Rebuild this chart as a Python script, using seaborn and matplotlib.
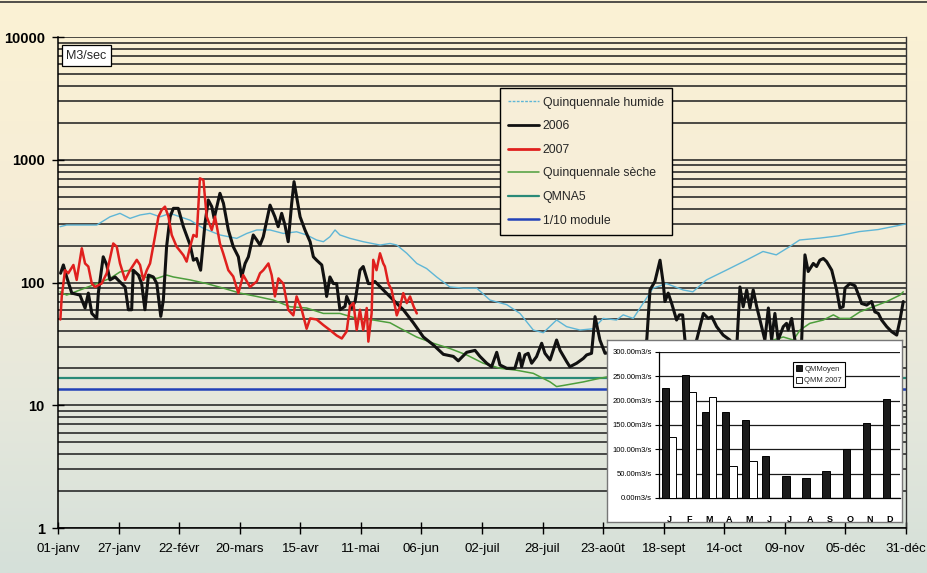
import numpy as np
import pandas as pd
import matplotlib
matplotlib.use("Agg")
import matplotlib.pyplot as plt
import seaborn as sns
from matplotlib.lines import Line2D
from matplotlib.patches import Patch
from matplotlib.ticker import FixedLocator, NullFormatter, LogLocator, FixedFormatter
from matplotlib.colors import LinearSegmentedColormap

sns.set_theme(style="white")
plt.rcParams["font.family"] = ["Liberation Sans Narrow", "Liberation Sans", "DejaVu Sans"]

# ---------------- data ----------------
tick_days = [0, 26, 52, 78, 104, 130, 156, 182, 208, 234, 260, 286, 312, 338, 364]
tick_labels = ["01-janv", "27-janv", "22-févr", "20-mars", "15-avr", "11-mai", "06-jun",
               "02-juil", "28-juil", "23-août", "18-sept", "14-oct", "09-nov", "05-déc", "31-déc"]

days_2006 = [1.1, 2.3, 3.7, 5.9, 9.4, 11.6, 13, 14.5, 16.6, 17.3, 19.4, 20.9, 22.3, 24.5, 27.3, 28.8,
             30.2, 31.6, 32.3, 34.5, 35.9, 37.3, 38.8, 40.9, 42.4, 44.1, 45.2, 46.6, 48.1, 49.5, 51.6,
             53.8, 56.7, 58.1, 59.5, 61.2, 63.1, 64.5, 66, 67, 69.5, 71, 73.1, 75.2, 77.4, 78.8, 80.3,
             81.7, 83.8, 85.3, 86.7, 88.1, 91, 93.1, 94.5, 96, 97.4, 98.8, 100.3, 101.3, 102.4, 103.9,
             106, 108.2, 109.6, 111, 113.2, 114.6, 115.3, 116.7, 118.2, 119.6, 121, 123.2, 123.9, 126,
             127.5, 129.6, 131, 133.2, 134.6, 136, 139.6, 143.9, 148.2, 152.5, 156.8,
             161.1, 165.4, 169.7, 171.8, 175.4, 179, 181.1, 184, 186.1, 188.3, 189.7, 192.6, 196.1,
             198, 199, 200.4, 201.8, 203.3, 205.4, 207.6, 209, 211.2, 214, 215.5, 218.3, 219.7, 221.2,
             222.6, 225.5, 226.9, 229, 230.5, 232.6, 234.8, 241, 247, 252.7, 254.1, 256.2, 258.4,
             259.8, 260.5, 261.9, 263.4, 265.5, 266.7, 268.1, 269.1, 271.5, 274.1, 277, 279.1, 280.6,
             282.7, 285.5, 288.4, 290, 291.5, 292.7, 294.1, 295.6, 297, 298.4, 299.9, 302, 303.4,
             304.9, 306.3, 307.7, 309.1, 311.3, 312.7, 313.4, 314.9, 316.3, 318, 319.2, 320.6, 322,
             324.2, 325.6, 327, 328.5, 329.9, 332.1, 334.2, 335.6, 337, 337.8, 339.9, 342.1, 344.2,
             344.9, 347.1, 349.2, 350.6, 352.1, 353.5, 355.7, 357.8, 360, 361.4, 362.8]
q_2006 = [119, 139, 111, 82, 79, 62, 82, 56, 51, 82, 162, 139, 105, 111, 98, 92,
          60, 60, 126, 115, 98, 60, 115, 111, 98, 53, 72, 196, 343, 402, 402,
          285, 202, 152, 157, 126, 304, 470, 415, 333, 533, 442, 268, 196, 162, 111, 143,
          162, 244, 222, 202, 236, 427, 343, 285, 366, 294, 215, 442, 663, 500, 343,
          268, 215, 162, 152, 139, 98, 77, 111, 98, 98, 60, 64, 77, 62,
          70, 126, 135, 98, 98, 102, 87, 72, 60, 47, 36,
          31, 26, 25, 23, 27, 28, 25, 22, 20.6, 27, 21.3, 20, 20,
          26.5, 20.6, 25.7, 26.5, 22, 24.9, 32, 26.5, 23.4, 34, 28, 22.7, 20.6, 21.3,
          22, 24.1, 25.7, 26.5, 52.7, 34, 26.5, 28, 25, 34, 87, 102, 152,
          98, 70, 82, 67.5, 49.5, 54.5, 54.5, 34, 28, 34, 56, 51, 52.7,
          43.7, 37.3, 34, 30, 34, 92, 63.5, 87, 62, 87, 63.5, 43.7, 34,
          62, 34, 56, 34, 43.7, 46.5, 41, 51, 34, 28, 34, 168, 123,
          143, 135, 152, 157, 148, 126, 87, 62, 63.5, 90, 98, 94, 74,
          67.5, 65.5, 70, 57.7, 56, 49.5, 43.7, 39.8, 37.3, 49.5, 70]

days_2007 = [1, 1.6, 3, 4.4, 6.6, 8, 10.2, 11.6, 13, 14.5, 15.9, 17.3, 18.7, 20.9, 23.7, 25.2, 26.6,
             28.8, 30.9, 33.8, 35.2, 36.6, 38.1, 39.5, 41.6, 43.1, 44.5, 45.9, 47.4, 48.8, 50.9, 53.8,
             55.2, 56.7, 58.1, 59.5, 60.9, 62.4, 63.8, 66, 67.4, 69.5, 70.9, 73.1, 75.2, 77.4, 79.5,
             82.4, 85.3, 86.7, 88.1, 90.3, 91.7, 93.1, 94.6, 96.7, 98.8, 101, 102.4, 104.6, 106.7,
             108.2, 111, 113.9, 116.7, 119.6, 121.8, 123.9, 125.3, 126.8, 128.2, 129.6, 131, 132.5,
             133.2, 134.6, 135.3, 136.7, 138.2, 139.6, 140.3, 141.8, 143.2, 145.4, 146.8, 148.2,
             149.7, 151.1, 152.6, 154]
q_2007 = [50, 77, 126, 119, 139, 105, 190, 143, 135, 98, 92, 95, 98, 119, 208, 196, 143,
          105, 126, 153, 139, 105, 126, 143, 236, 344, 390, 415, 344, 244, 196, 167,
          148, 196, 244, 236, 706, 684, 344, 268, 344, 208, 173, 126, 112, 82, 115,
          92, 102, 119, 126, 143, 115, 77, 108, 98, 60, 54, 77, 60, 42,
          51, 50, 45, 41, 37, 35, 40, 64, 68, 41, 60, 41, 62,
          33, 56, 153, 126, 173, 143, 135, 98, 87, 54, 64, 82,
          68, 77, 64, 56]

days_seche = [0.9, 3.7, 16.6, 22.3, 26.6, 30.9, 36.6, 42.4, 46.6, 49.5, 56.7, 63.8, 70.9, 78.1, 85.3,
              92.4, 99.6, 106.7, 113.9, 121, 128.2, 135.3, 142.5, 146.8, 153.9, 161.1, 168.2, 175.4,
              182.5, 189.7, 196.8, 204, 211.2, 214, 216.9, 225.5, 232.6, 235.5, 260, 285, 300, 311.3,
              315.6, 318.5, 322.7, 328.5, 332.8, 335.6, 339.9, 344.2, 349.9, 355.7, 361.4, 362.8]
q_seche = [84, 79, 98, 108, 122, 126, 111, 108, 115, 111, 105, 98, 90, 82, 77,
           72, 63.5, 62, 56, 56, 51, 49.5, 47, 42.4, 36, 32, 29, 25.7,
           22, 20, 19.3, 18.2, 15.5, 14.2, 14.5, 15.5, 16.6, 17, 20, 26, 31, 36,
           34, 41, 46.5, 49.5, 54.5, 51, 51, 57.7, 63.5, 70, 79, 84]

days_humide = [0.9, 3.7, 9.4, 16.6, 22.3, 26.6, 30.9, 35.2, 39.5, 43.8, 48.1, 52.4, 56.7, 62.4, 69.5,
               76.7, 81, 85.3, 91, 96.7, 102.4, 106.7, 111, 113.9, 116.7, 118.9, 121, 125.3, 131,
               138.2, 142.5, 145.4, 149.7, 154, 158.2, 162.5, 168.2, 174, 179.7, 185.4, 192.6, 198.3,
               204, 208.3, 214, 218.3, 224, 229.7, 234, 239.7, 242.6, 246.9, 255.4, 261.2, 268.3,
               272.5, 278.3, 286.8, 295.4, 302.6, 308.3, 314, 318.3, 327, 335, 344, 352, 364]
q_humide = [285, 294, 294, 294, 343, 366, 333, 355, 366, 343, 366, 343, 322, 276, 244,
            229, 251, 268, 268, 251, 259, 244, 222, 215, 236, 268, 244, 229, 215,
            202, 208, 202, 173, 143, 130, 111, 92, 90, 90, 72, 66, 56,
            41, 39, 49.5, 43.7, 41, 42, 51, 49.5, 54.5, 51, 90, 98, 87,
            84, 105, 126, 152, 179, 168, 196, 222, 230, 240, 260, 270, 300]

qmna5 = 16.7
module_10 = 13.6

months = ["Jan", "Feb", "Mar", "Apr", "May", "Jun", "Jul", "Aug", "Sep", "Oct", "Nov", "Dec"]
month_letters = ["J", "F", "M", "A", "M", "J", "J", "A", "S", "O", "N", "D"]
qm_moyen = [225, 253, 177, 177, 160, 87, 45, 41, 55, 100, 155, 203]
qmm_2007 = [125, 217, 208, 66, 77]
inset_ticks = [0, 50, 100, 150, 200, 250, 300]

# ---------------- colours ----------------
c_humide = "#5fb6d6"
c_2006 = "#111111"
c_2007 = "#e0201e"
c_seche = "#4d9e3c"
c_qmna5 = "#2a8a78"
c_module = "#2342b8"

fig = plt.figure(figsize=(9.27, 5.73), dpi=100)

# background gradient (scanned paper look)
bg = fig.add_axes([0, 0, 1, 1], zorder=-10)
cmap = LinearSegmentedColormap.from_list(
    "bg", [(0, "#fbf2d4"), (0.35, "#f6edd7"), (0.7, "#e6e8dc"), (1, "#d5e0d9")])
bg.imshow(np.linspace(0, 1, 256).reshape(-1, 1), aspect="auto", cmap=cmap,
          extent=[0, 1, 0, 1], origin="upper")
bg.axis("off")
fig.add_artist(Line2D([0, 1], [0.996, 0.996], color="#333333", lw=1.2,
                      transform=fig.transFigure))

# ---------------- main axes ----------------
ax = fig.add_axes([0.0626, 0.0785, 0.9148, 0.8569])
ax.set_facecolor("none")

df_h = pd.DataFrame({"day": days_humide, "q": q_humide})
df_s = pd.DataFrame({"day": days_seche, "q": q_seche})
df_06 = pd.DataFrame({"day": days_2006, "q": q_2006})
df_07 = pd.DataFrame({"day": days_2007, "q": q_2007})

ax.axhline(qmna5, color=c_qmna5, lw=1.6, zorder=2)
ax.axhline(module_10, color=c_module, lw=1.8, zorder=2)
sns.lineplot(data=df_h, x="day", y="q", ax=ax, color=c_humide, lw=1.0, sort=False,
             estimator=None, zorder=3)
sns.lineplot(data=df_s, x="day", y="q", ax=ax, color=c_seche, lw=1.1, sort=False,
             estimator=None, zorder=3)
sns.lineplot(data=df_06, x="day", y="q", ax=ax, color=c_2006, lw=2.2, sort=False,
             estimator=None, zorder=4)
sns.lineplot(data=df_07, x="day", y="q", ax=ax, color=c_2007, lw=1.8, sort=False,
             estimator=None, zorder=5)

ax.set_yscale("log")
ax.set_ylim(1, 10000)
ax.set_xlim(0, 364)
ax.set_xlabel("")
ax.set_ylabel("")
ax.yaxis.set_major_locator(FixedLocator([1, 10, 100, 1000, 10000]))
ax.yaxis.set_major_formatter(FixedFormatter(["1", "10", "100", "1000", "10000"]))
ax.yaxis.set_minor_locator(LogLocator(base=10, subs=np.arange(2, 10)))
ax.yaxis.set_minor_formatter(NullFormatter())
ax.grid(False)
ax.yaxis.grid(True, which="both", color="#1c1c1c", lw=1.1, zorder=1)
ax.set_axisbelow(True)
ax.set_xticks(tick_days)
ax.set_xticklabels(tick_labels, fontsize=9.5)
for lab in ax.get_yticklabels():
    lab.set_fontsize(10.5)
    lab.set_fontweight("bold")
ax.tick_params(axis="x", which="major", direction="inout", length=9, width=1, colors="black",
               pad=6, bottom=True)
ax.tick_params(axis="y", which="major", direction="inout", length=9, width=1, colors="black",
               pad=5, left=True)
ax.tick_params(axis="y", which="minor", length=0)
for side in ["left", "bottom"]:
    ax.spines[side].set_color("black")
    ax.spines[side].set_linewidth(1.1)
ax.spines["right"].set_color("#333333")
ax.spines["right"].set_linewidth(1.0)
ax.spines["top"].set_visible(False)

ax.text(0.0094, 0.974, "M3/sec", transform=ax.transAxes, va="top", ha="left", fontsize=9,
        bbox=dict(boxstyle="square,pad=0.35", fc="white", ec="black", lw=0.9), zorder=6)

handles = [Line2D([], [], color=c_humide, lw=1.0, ls=(0, (2, 1))),
           Line2D([], [], color=c_2006, lw=2.0),
           Line2D([], [], color=c_2007, lw=2.0),
           Line2D([], [], color=c_seche, lw=1.1),
           Line2D([], [], color=c_qmna5, lw=1.6),
           Line2D([], [], color=c_module, lw=1.8)]
labels = ["Quinquennale humide", "2006", "2007", "Quinquennale sèche", "QMNA5", "1/10 module"]
leg = ax.legend(handles, labels, loc="upper left", bbox_to_anchor=(0.521, 0.896),
                fontsize=8.8, frameon=True, fancybox=False, framealpha=1,
                facecolor="#f7eed8", edgecolor="black", labelspacing=0.95,
                handlelength=2.5, handletextpad=0.3, borderpad=0.7, borderaxespad=0)
leg.get_frame().set_linewidth(1.0)
leg.set_zorder(7)

# ---------------- inset bar chart ----------------
box = fig.add_axes([0.6548, 0.0890, 0.3182, 0.3176], zorder=8)
box.set_facecolor("white")
box.set_xticks([])
box.set_yticks([])
for s in box.spines.values():
    s.set_color("#777777")
    s.set_linewidth(1.0)

iax = fig.add_axes([0.7109, 0.1309, 0.2600, 0.2548], zorder=9)
iax.set_facecolor("white")
rows = []
for i, m in enumerate(months):
    rows.append({"month": m, "serie": "QMMoyen", "val": qm_moyen[i]})
    if i < len(qmm_2007):
        rows.append({"month": m, "serie": "QMM 2007", "val": qmm_2007[i]})
bdf = pd.DataFrame(rows)
sns.barplot(data=bdf, x="month", y="val", hue="serie", order=months,
            hue_order=["QMMoyen", "QMM 2007"],
            palette={"QMMoyen": "#1b1b1b", "QMM 2007": "white"},
            edgecolor="black", linewidth=0.7, width=0.72, ax=iax, zorder=3)
iax.set_ylim(0, 300)
iax.set_yticks(inset_ticks)
iax.set_yticklabels([f"{v:.2f}m3/s" for v in inset_ticks], fontsize=5.5)
iax.set_xticks(range(12))
iax.set_xticklabels(month_letters, fontsize=6.5, fontweight="bold")
iax.set_xlabel("")
iax.set_ylabel("")
iax.grid(False)
iax.yaxis.grid(True, color="#1a1a1a", lw=0.9)
iax.set_axisbelow(True)
for s in ["top", "right"]:
    iax.spines[s].set_visible(False)
for s in ["left", "bottom"]:
    iax.spines[s].set_color("black")
    iax.spines[s].set_linewidth(0.9)
iax.tick_params(axis="y", left=True, length=3, width=0.8, pad=2, colors="black")
iax.tick_params(axis="x", bottom=False, pad=6, colors="black")
ileg_h = [Patch(fc="#1b1b1b", ec="black", lw=0.6), Patch(fc="white", ec="black", lw=0.6)]
ileg = iax.legend(ileg_h, ["QMMoyen", "QMM 2007"], loc="upper left",
                  bbox_to_anchor=(0.556, 0.93), fontsize=5.5, frameon=True, fancybox=False,
                  framealpha=1, facecolor="white", edgecolor="black", handlelength=0.8,
                  handleheight=0.8, handletextpad=0.3, labelspacing=0.5, borderpad=0.4,
                  borderaxespad=0)
ileg.get_frame().set_linewidth(0.8)

fig.savefig("out.png", dpi=100)
